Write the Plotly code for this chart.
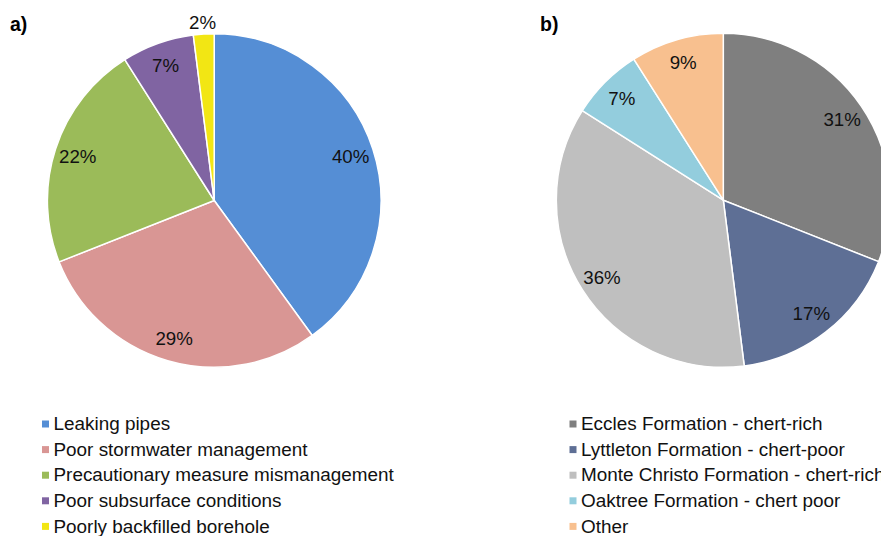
import math
import plotly.graph_objects as go

# Panel a) causes
causes = [
    "Leaking pipes",
    "Poor stormwater management",
    "Precautionary measure mismanagement",
    "Poor subsurface conditions",
    "Poorly backfilled borehole",
]
cause_pct = [40, 29, 22, 7, 2]
cause_colors = ["#558ED5", "#D99694", "#9BBB59", "#8064A2", "#F2E614"]
cause_outside = [False, False, False, False, True]

# Panel b) geology
geology = [
    "Eccles Formation - chert-rich",
    "Lyttleton Formation - chert-poor",
    "Monte Christo Formation - chert-rich",
    "Oaktree Formation - chert poor",
    "Other",
]
geology_pct = [31, 17, 36, 7, 9]
geology_colors = ["#7F7F7F", "#5E6F95", "#BFBFBF", "#93CDDD", "#F8C08F"]
geology_outside = [False] * 5

panel_titles = ["a)", "b)"]

W, H = 892, 536
FONT = "Liberation Sans, Arial, sans-serif"
FS_LABEL = 18.7
FS_LEGEND = 18.9
TEXT_COLOR = "#111111"


def px_domain(cx, cy, r):
    x0, x1 = max(0.0, (cx - r) / W), min(1.0, (cx + r) / W)
    return dict(x=[x0, x1], y=[1 - (cy + r) / H, 1 - (cy - r) / H])


fig = go.Figure()

panels = [
    dict(labels=causes, values=cause_pct, colors=cause_colors, outside=cause_outside,
         c=(214.2, 200.5), r=166.8, mx=45.5, tx=53.5),
    dict(labels=geology, values=geology_pct, colors=geology_colors, outside=geology_outside,
         c=(723.3, 200.2), r=167.0, mx=573.0, tx=581.0),
]

for p in panels:
    dom = px_domain(p["c"][0], p["c"][1], p["r"])
    # filled pie
    fig.add_trace(go.Pie(
        labels=p["labels"], values=p["values"], domain=dom,
        sort=False, direction="clockwise", rotation=0,
        marker=dict(colors=p["colors"], line=dict(color="white", width=1.5)),
        textinfo="none", hoverinfo="label+percent", showlegend=False,
    ))
    # percentage labels placed towards the rim via a transparent ring
    fig.add_trace(go.Pie(
        labels=p["labels"], values=p["values"], domain=dom, hole=0.72,
        sort=False, direction="clockwise", rotation=0,
        marker=dict(colors=["rgba(0,0,0,0)"] * len(p["values"]), line=dict(width=0)),
        texttemplate=["" if o else "%{percent}" for o in p["outside"]],
        textposition="inside", insidetextorientation="horizontal",
        textfont=dict(family=FONT, size=FS_LABEL, color=TEXT_COLOR),
        hoverinfo="skip", showlegend=False,
    ))

    # thin slices get their label just beyond the rim, on the slice bisector
    total = sum(p["values"])
    cum = 0
    for v, o in zip(p["values"], p["outside"]):
        if o:
            ang = math.radians((cum + v / 2) / total * 360)
            rr = p["r"] + 12
            lx = p["c"][0] + rr * math.sin(ang)
            ly = p["c"][1] - rr * math.cos(ang)
            fig.add_annotation(
                text=f"{round(v / total * 100)}%", x=lx / W, y=1 - ly / H,
                xref="paper", yref="paper", xanchor="center", yanchor="middle",
                showarrow=False, font=dict(family=FONT, size=FS_LABEL, color=TEXT_COLOR),
            )
        cum += v

    # legend block below each pie
    rows = [424 + i * 25.6 for i in range(len(p["labels"]))]
    fig.add_trace(go.Scatter(
        x=[p["mx"]] * len(rows), y=rows, mode="markers",
        marker=dict(symbol="square", size=7, color=p["colors"], line=dict(width=0)),
        hoverinfo="skip", showlegend=False, cliponaxis=False,
    ))
    fig.add_trace(go.Scatter(
        x=[p["tx"]] * len(rows), y=[r + 1.5 for r in rows], mode="text",
        text=p["labels"], textposition="middle right",
        textfont=dict(family=FONT, size=FS_LEGEND, color=TEXT_COLOR),
        hoverinfo="skip", showlegend=False, cliponaxis=False,
    ))

for title, x in zip(panel_titles, [8, 538]):
    fig.add_annotation(
        text=f"<b>{title}</b>", x=x / W, y=1 - 24 / H, xref="paper", yref="paper",
        xanchor="left", yanchor="middle", showarrow=False,
        font=dict(family=FONT, size=19.5, color="#000000"),
    )

fig.update_layout(
    width=W, height=H,
    margin=dict(l=0, r=0, t=0, b=0),
    paper_bgcolor="white", plot_bgcolor="rgba(0,0,0,0)",
    xaxis=dict(range=[0, W], visible=False, fixedrange=True, domain=[0, 1]),
    yaxis=dict(range=[H, 0], visible=False, fixedrange=True, domain=[0, 1]),
    showlegend=False,
)

fig.write_html("out.html")
